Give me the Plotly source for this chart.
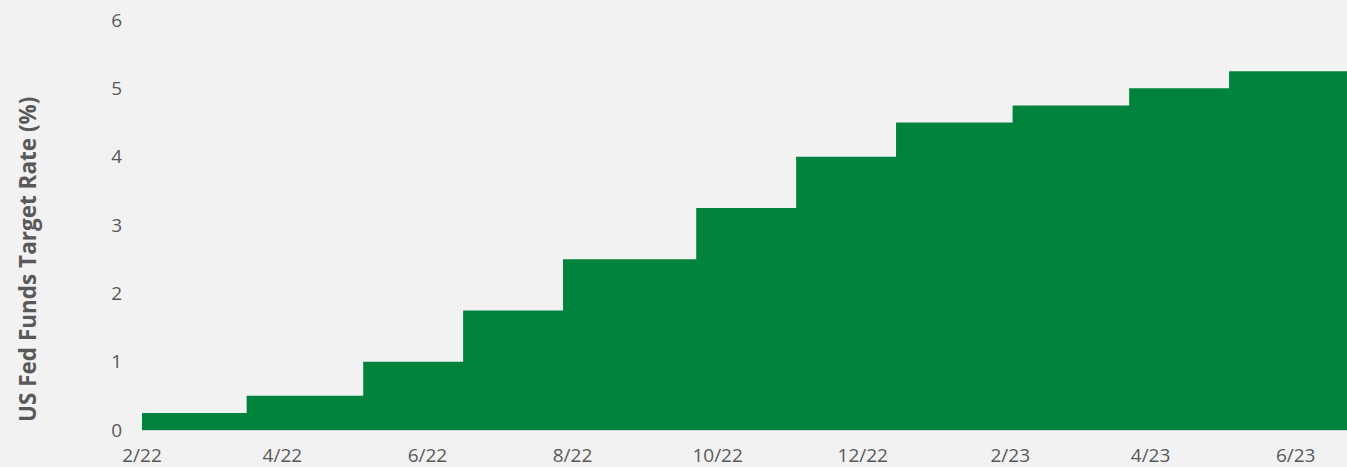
import plotly.graph_objects as go

# Fed funds target rate (upper bound), effective dates of each change
change_dates = ["2022-02-01", "2022-03-17", "2022-05-05", "2022-06-16", "2022-07-28",
                "2022-09-22", "2022-11-03", "2022-12-15", "2023-02-02", "2023-03-23",
                "2023-05-04", "2023-06-23"]
rates = [0.25, 0.50, 1.00, 1.75, 2.50, 3.25, 4.00, 4.50, 4.75, 5.00, 5.25, 5.25]

tick_dates = ["2022-02-01", "2022-04-01", "2022-06-01", "2022-08-01", "2022-10-01",
              "2022-12-01", "2023-02-01", "2023-04-01", "2023-06-01"]
tick_labels = ["2/22", "4/22", "6/22", "8/22", "10/22", "12/22", "2/23", "4/23", "6/23"]

GREEN = "#00843D"
GREY = "#595959"
FONT = "Open Sans"

fig = go.Figure()
fig.add_trace(go.Scatter(
    x=change_dates, y=rates, mode="lines", line_shape="hv",
    line=dict(width=0, color=GREEN), fill="tozeroy", fillcolor=GREEN,
    showlegend=False, hoverinfo="x+y",
))

fig.update_layout(
    width=1347, height=467,
    margin=dict(l=142, r=0, t=20, b=37),
    paper_bgcolor="#F2F2F2", plot_bgcolor="#F2F2F2",
    font=dict(family=FONT, color=GREY, size=19),
)
fig.update_xaxes(
    type="date", range=["2022-02-01", "2023-06-22 14:00"],
    tickmode="array", tickvals=tick_dates, ticktext=tick_labels,
    showgrid=False, zeroline=False, showline=True, linecolor="#CFD8E3", linewidth=1,
    ticks="", ticklabelstandoff=8, tickfont=dict(size=19, color=GREY),
    automargin=False,
)
fig.update_yaxes(
    range=[0, 6], dtick=1, showgrid=False, zeroline=False, showline=False,
    ticks="", ticklabelstandoff=19, tickfont=dict(size=19, color=GREY),
    automargin=False,
)
fig.add_annotation(
    text="<b>US Fed Funds Target Rate (%)</b>", textangle=-90,
    xref="paper", yref="paper", x=-0.0954, y=0.4146,
    xanchor="center", yanchor="middle", showarrow=False,
    font=dict(family=FONT, size=22.5, color=GREY),
)

fig.write_html("out.html", config={"displayModeBar": False},
               post_script="document.body.style.margin='0';")
